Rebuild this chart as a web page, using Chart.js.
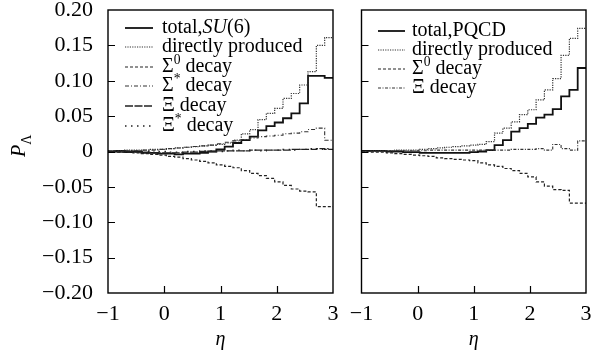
<!DOCTYPE html>
<html lang="en">
<head>
<meta charset="UTF-8">
<title>Lambda polarization vs eta</title>
<script src="https://cdn.jsdelivr.net/npm/chart.js"></script>
<style>
  body { margin: 0; background: #fff; }
  #wrap { position: relative; width: 591px; height: 354px; }
  canvas { position: absolute; top: 0; }
  #left { left: 0; }
  #right { left: 345px; }
</style>
</head>
<body>
<div id="wrap">
  <canvas id="left" width="345" height="354"></canvas>
  <canvas id="right" width="246" height="354"></canvas>
</div>
<script>
  // lower edges of the eta bins (last entry closes the final bin)
  var binEdges = [-1.000, -0.852, -0.704, -0.556, -0.407, -0.259, -0.111, 0.037, 0.185,
    0.333, 0.481, 0.630, 0.778, 0.926, 1.074, 1.222, 1.370, 1.519, 1.667, 1.815,
    1.963, 2.111, 2.259, 2.407, 2.556, 2.704, 2.852, 3.000];

  var xTicks = [-1, 0, 1, 2, 3];
  var yTicks = [-0.20, -0.15, -0.10, -0.05, 0, 0.05, 0.10, 0.15, 0.20];

  // left panel, SU(6)
  var totalSU6 = [0.000, 0.001, -0.001, 0.000, -0.002, -0.002, -0.003, -0.003, -0.004, -0.003,
    -0.003, -0.002, 0.000, 0.003, 0.007, 0.012, 0.016, 0.021, 0.030, 0.036,
    0.041, 0.047, 0.054, 0.068, 0.107, 0.107, 0.104];
  var directSU6 = [0.001, 0.001, 0.002, 0.002, 0.002, 0.003, 0.003, 0.004, 0.005, 0.006,
    0.007, 0.008, 0.009, 0.010, 0.012, 0.016, 0.025, 0.031, 0.045, 0.054,
    0.061, 0.075, 0.082, 0.094, 0.113, 0.150, 0.161];
  var sigma0SU6 = [0.000, -0.001, -0.001, -0.002, -0.003, -0.004, -0.005, -0.007, -0.008, -0.010,
    -0.012, -0.014, -0.016, -0.019, -0.021, -0.023, -0.027, -0.031, -0.034, -0.038,
    -0.043, -0.048, -0.053, -0.056, -0.057, -0.078, -0.078];
  var sigmaStarSU6 = [0.000, 0.000, 0.001, 0.001, 0.002, 0.002, 0.003, 0.004, 0.005, 0.006,
    0.007, 0.008, 0.009, 0.011, 0.013, 0.015, 0.017, 0.019, 0.021, 0.022,
    0.023, 0.025, 0.026, 0.028, 0.031, 0.033, 0.016];
  var xiSU6 = [0.000, -0.001, 0.000, -0.001, -0.001, -0.002, -0.002, -0.002, -0.002, -0.001,
    -0.001, 0.000, 0.000, 0.001, 0.001, 0.001, 0.001, 0.002, 0.002, 0.002,
    0.002, 0.002, 0.003, 0.003, 0.003, 0.004, 0.003];
  var xiStarSU6 = [0.001, 0.000, 0.001, 0.000, 0.000, -0.001, 0.000, -0.001, -0.001, 0.000,
    0.000, 0.001, 0.001, 0.000, 0.001, 0.002, 0.001, 0.002, 0.001, 0.002,
    0.002, 0.003, 0.002, 0.003, 0.004, 0.003, 0.004];

  // right panel, PQCD
  var totalPQCD = [0.001, 0.001, 0.001, 0.000, 0.000, -0.001, -0.001, -0.002, -0.002, -0.002,
    -0.002, -0.002, -0.002, -0.001, 0.000, 0.002, 0.009, 0.016, 0.028, 0.033,
    0.039, 0.048, 0.052, 0.060, 0.078, 0.087, 0.118];
  var directPQCD = [0.000, 0.001, 0.001, 0.001, 0.002, 0.002, 0.002, 0.003, 0.004, 0.005,
    0.006, 0.007, 0.008, 0.009, 0.010, 0.014, 0.026, 0.033, 0.042, 0.052,
    0.059, 0.073, 0.087, 0.103, 0.136, 0.160, 0.174];
  var sigma0PQCD = [0.000, -0.001, -0.001, -0.002, -0.003, -0.004, -0.005, -0.006, -0.007, -0.009,
    -0.010, -0.011, -0.012, -0.013, -0.016, -0.019, -0.021, -0.024, -0.027, -0.031,
    -0.036, -0.043, -0.049, -0.054, -0.055, -0.073, -0.073];
  var xiPQCD = [0.000, 0.000, 0.000, 0.001, 0.001, 0.001, 0.001, 0.001, 0.002, 0.002,
    0.002, 0.002, 0.002, 0.002, 0.002, 0.002, 0.002, 0.002, 0.003, 0.003,
    0.003, 0.004, 0.002, 0.010, 0.004, 0.002, 0.015];

  var SERIF = "'Liberation Serif', 'DejaVu Serif', serif";

  // line looks
  var lineTotal = { dash: [], width: 1.8, color: "#111" };
  var lineDirect = { dash: [1.2, 1.2], width: 1.2, color: "#333" };
  var lineSigma0 = { dash: [3, 2], width: 1.2, color: "#222" };
  var lineSigmaStar = { dash: [4, 2, 1, 2], width: 1.1, color: "#333" };
  var lineXi = { dash: [8, 1.5], width: 1.3, color: "#222" };
  var lineXiStar = { dash: [1.5, 4.5], width: 1.3, color: "#222" };
  var lineXiR = { dash: [3, 1.5, 1, 1.5], width: 1.1, color: "#333" };

  function stepPoints(values) {
    var pts = [];
    for (var k = 0; k < values.length; k++) {
      pts.push({ x: binEdges[k], y: values[k] });
    }
    pts.push({ x: binEdges[values.length], y: values[values.length - 1] });
    return pts;
  }

  function histo(values, look) {
    return {
      data: stepPoints(values),
      stepped: "before",
      borderColor: look.color,
      borderWidth: look.width,
      borderDash: look.dash,
      pointRadius: 0,
      fill: false,
    };
  }

  function fmtTick(v) {
    if (Math.abs(v) < 1e-9) return "0";
    return v.toFixed(2).replace("-", "\u2212");
  }

  // draws text pieces: {t, i (italic), s (superscript)}
  function drawRich(ctx, pieces, x, y, size) {
    ctx.textBaseline = "middle";
    ctx.textAlign = "left";
    pieces.forEach(function (p) {
      var fs = p.s ? size * 0.68 : size;
      ctx.font = (p.i ? "italic " : "") + fs + "px " + SERIF;
      var dy = p.s ? -size * 0.33 : 0;
      ctx.fillText(p.t, x, y + dy);
      x += ctx.measureText(p.t).width;
    });
  }

  function panelPlugin(cfg) {
    return {
      id: "panelDecor",
      afterDraw: function (chart) {
        var ctx = chart.ctx;
        var a = chart.chartArea;
        var xs = chart.scales.x, ys = chart.scales.y;
        ctx.save();
        ctx.strokeStyle = "#000";
        ctx.fillStyle = "#000";
        ctx.setLineDash([]);
        ctx.lineWidth = 1.4;
        ctx.strokeRect(a.left, a.top, a.right - a.left, a.bottom - a.top);

        // inward ticks
        ctx.lineWidth = 1.2;
        ctx.beginPath();
        xs.ticks.forEach(function (t) {
          if (t.value <= xs.min || t.value >= xs.max) return;
          var px = Math.round(xs.getPixelForValue(t.value)) + 0.5;
          ctx.moveTo(px, a.bottom);
          ctx.lineTo(px, a.bottom - 7);
        });
        ys.ticks.forEach(function (t) {
          if (t.value <= ys.min + 1e-9 || t.value >= ys.max - 1e-9) return;
          var py = Math.round(ys.getPixelForValue(t.value)) + 0.5;
          ctx.moveTo(a.left, py);
          ctx.lineTo(a.left + 7, py);
        });
        ctx.stroke();

        // legend
        cfg.legend.forEach(function (row, i) {
          var y = cfg.legendY[i];
          ctx.setLineDash(row.look.dash);
          ctx.lineWidth = row.look.width;
          ctx.strokeStyle = row.look.color;
          ctx.beginPath();
          ctx.moveTo(cfg.sampleX[0], y);
          ctx.lineTo(cfg.sampleX[1], y);
          ctx.stroke();
          ctx.setLineDash([]);
          drawRich(ctx, row.text, cfg.textX, y, 20);
        });

        // x title
        ctx.font = "italic 20px " + SERIF;
        ctx.textAlign = "center";
        ctx.textBaseline = "middle";
        ctx.fillText("\u03b7", (a.left + a.right) / 2, 340);

        // y title
        if (cfg.yTitle) {
          ctx.translate(20, 147);
          ctx.rotate(-Math.PI / 2);
          ctx.textAlign = "left";
          ctx.font = "italic 20px " + SERIF;
          ctx.fillText("P", -10, 0);
          var w = ctx.measureText("P").width;
          ctx.font = "14px " + SERIF;
          ctx.fillText("\u039b", -10 + w, 7);
        }
        ctx.restore();
      },
    };
  }

  function makeOptions(side) {
    var isLeft = side === "left";
    return {
      responsive: false,
      animation: false,
      events: [],
      layout: { padding: { top: 10, right: isLeft ? 12 : 5, left: 0, bottom: 0 } },
      plugins: { legend: { display: false }, tooltip: { enabled: false } },
      scales: {
        x: {
          type: "linear",
          min: -1,
          max: 3,
          afterBuildTicks: function (s) { s.ticks = xTicks.map(function (v) { return { value: v }; }); },
          ticks: {
            padding: 8,
            color: "#000",
            font: { family: SERIF, size: 22 },
            maxRotation: 0,
            autoSkip: false,
            callback: function (v) { return String(v).replace("-", "\u2212"); },
          },
          grid: { display: false, drawTicks: false },
          border: { display: false },
          afterFit: function (s) {
            s.height = 61;
            s.paddingLeft = 0;
            s.paddingRight = 0;
          },
        },
        y: {
          type: "linear",
          min: -0.2,
          max: 0.2,
          afterBuildTicks: function (s) { s.ticks = yTicks.map(function (v) { return { value: v }; }); },
          ticks: {
            display: isLeft,
            padding: 15,
            color: "#000",
            font: { family: SERIF, size: 22 },
            autoSkip: false,
            callback: function (v) { return fmtTick(v); },
          },
          grid: { display: false, drawTicks: false },
          border: { display: false },
          afterFit: function (s) {
            s.width = isLeft ? 108 : 16.5;
            s.paddingTop = 0;
            s.paddingBottom = 0;
          },
        },
      },
    };
  }

  new Chart(document.getElementById("left"), {
    type: "line",
    data: {
      datasets: [
        histo(xiStarSU6, lineXiStar),
        histo(xiSU6, lineXi),
        histo(sigmaStarSU6, lineSigmaStar),
        histo(sigma0SU6, lineSigma0),
        histo(directSU6, lineDirect),
        histo(totalSU6, lineTotal),
      ],
    },
    options: makeOptions("left"),
    plugins: [panelPlugin({
      yTitle: true,
      sampleX: [125, 153],
      textX: 162,
      legendY: [28, 47, 67, 86, 106, 126],
      legend: [
        { look: lineTotal, text: [{ t: "total," }, { t: "SU", i: true }, { t: "(6)" }] },
        { look: lineDirect, text: [{ t: "directly produced" }] },
        { look: lineSigma0, text: [{ t: "\u03a3" }, { t: "0", s: true }, { t: " decay" }] },
        { look: lineSigmaStar, text: [{ t: "\u03a3" }, { t: "*", s: true }, { t: " decay" }] },
        { look: lineXi, text: [{ t: "\u039e decay" }] },
        { look: lineXiStar, text: [{ t: "\u039e" }, { t: "*", s: true }, { t: " decay" }] },
      ],
    })],
  });

  new Chart(document.getElementById("right"), {
    type: "line",
    data: {
      datasets: [
        histo(xiPQCD, lineXiR),
        histo(sigma0PQCD, lineSigma0),
        histo(directPQCD, lineDirect),
        histo(totalPQCD, lineTotal),
      ],
    },
    options: makeOptions("right"),
    plugins: [panelPlugin({
      yTitle: false,
      sampleX: [33, 60],
      textX: 67,
      legendY: [31, 50, 69, 88],
      legend: [
        { look: lineTotal, text: [{ t: "total,PQCD" }] },
        { look: lineDirect, text: [{ t: "directly produced" }] },
        { look: lineSigma0, text: [{ t: "\u03a3" }, { t: "0", s: true }, { t: " decay" }] },
        { look: lineXiR, text: [{ t: "\u039e decay" }] },
      ],
    })],
  });
</script>
</body>
</html>
